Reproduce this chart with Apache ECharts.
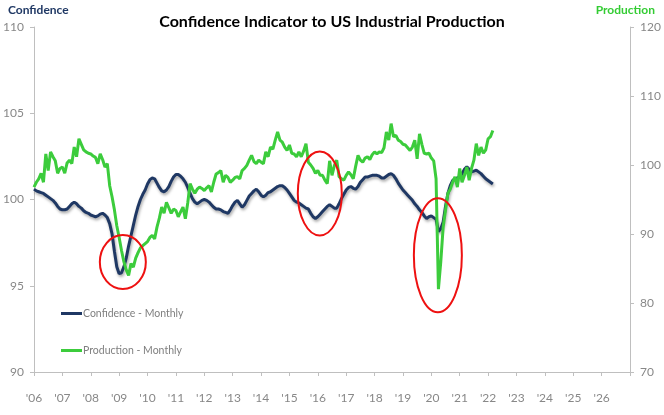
<!DOCTYPE html>
<html>
<head>
<meta charset="utf-8">
<script src="https://cdn.jsdelivr.net/npm/echarts@6/dist/echarts.min.js"></script>
<style>
html,body{margin:0;padding:0;background:#fff;}
#chart{width:664px;height:415px;}
</style>
</head>
<body>
<div id="chart"></div>
<script>
// Monthly data starting January 2006
const startYear = 2006;
const confidence = [
100.6,100.5,100.45,100.4,100.35,100.25,100.15,100.05,99.95,99.8,99.6,99.45,
99.4,99.4,99.45,99.6,99.75,99.85,99.75,99.6,99.5,99.35,99.25,99.2,
99.1,99.05,99.0,99.05,99.15,99.2,99.1,98.95,98.6,98.0,97.0,96.1,
95.7,95.75,96.1,96.6,97.3,97.9,98.5,99.1,99.6,100.0,100.3,100.55,
100.9,101.15,101.25,101.2,100.95,100.7,100.5,100.45,100.55,100.75,101.05,101.3,
101.45,101.45,101.35,101.2,101.0,100.7,100.35,100.05,99.85,99.75,99.85,99.95,
100.0,99.95,99.85,99.7,99.55,99.45,99.45,99.4,99.3,99.25,99.2,99.4,
99.65,99.85,99.95,99.75,99.55,99.7,99.95,100.2,100.35,100.5,100.6,100.45,
100.25,100.15,100.25,100.4,100.45,100.55,100.65,100.75,100.8,100.8,100.7,100.55,
100.35,100.15,99.95,99.85,99.8,99.7,99.6,99.5,99.45,99.2,99.0,98.9,
99.0,99.15,99.3,99.45,99.6,99.7,99.6,99.5,99.5,99.75,100.05,100.3,
100.55,100.7,100.75,100.65,100.6,100.75,101.0,101.15,101.3,101.3,101.35,101.4,
101.4,101.4,101.35,101.25,101.25,101.35,101.45,101.5,101.4,101.2,100.95,100.75,
100.55,100.4,100.25,100.1,99.95,99.75,99.6,99.4,99.25,99.05,98.9,99.0,
99.05,98.95,98.85,98.15,98.3,98.7,99.6,100.35,100.8,101.1,101.2,101.25,
101.3,101.5,101.75,101.9,101.75,101.6,101.65,101.7,101.6,101.5,101.35,101.2,
101.1,101.0,100.9
];
const production = [
96.8,97.5,98.0,98.8,97.5,101.6,99.2,101.9,101.2,100.6,98.8,99.5,
99.7,98.8,100.3,100.7,100.2,102.6,101.2,103.8,103.0,102.2,101.9,101.7,
101.6,101.3,101.1,100.2,101.6,100.8,99.7,100.2,97.0,95.4,93.5,91.2,
89.5,87.6,86.0,84.8,84.0,85.7,85.2,86.5,87.3,88.0,88.3,88.6,
88.9,89.5,89.8,89.3,91.0,92.3,93.9,93.0,94.6,93.8,93.0,93.6,
93.4,92.5,93.2,93.9,92.2,94.5,97.3,96.5,95.9,96.5,96.8,96.6,
96.3,96.7,97.0,96.1,97.5,98.7,98.9,99.2,97.5,98.5,98.2,97.5,
97.8,98.2,98.3,98.0,99.2,99.5,99.96,100.7,101.4,100.5,100.2,100.7,
100.4,100.2,101.9,101.2,102.6,102.3,103.6,104.8,103.6,103.3,102.6,102.1,
102.9,101.7,101.6,101.2,101.9,101.2,102.0,103.1,100.4,100.0,99.5,98.8,
99.2,98.5,98.5,97.8,97.3,100.6,98.5,99.9,100.7,98.3,98.0,97.8,
98.5,99.0,98.6,98.0,99.8,101.4,100.7,100.4,101.0,101.2,100.8,101.5,
101.9,101.6,101.9,101.8,102.5,104.8,103.6,106.0,104.1,104.3,103.6,103.4,
103.0,102.9,102.5,102.1,102.6,103.6,100.9,104.5,103.0,101.7,101.6,101.7,
101.0,100.6,98.0,82.0,86.0,91.0,93.5,95.9,96.5,97.5,98.3,96.8,
99.5,97.5,98.5,99.7,97.8,99.5,100.7,103.1,101.4,102.6,101.7,102.2,
103.8,104.1,105.0
];
const seriesNames = ['Confidence - Monthly', 'Production - Monthly'];
const confidenceTicks = [90, 95, 100, 105, 110];
const productionTicks = [70, 80, 90, 100, 110, 120];
const yearTicks = ["'06","'07","'08","'09","'10","'11","'12","'13","'14","'15","'16","'17","'18","'19","'20","'21","'22","'23","'24","'25","'26"];
// highlighted episodes: [year, confidence value] centres
const highlightCentres = [[2009.13, 96.37], [2016.07, 100.35], [2020.23, 96.77]];
const highlightRadii = [[23, 27], [22, 42], [24, 57]];

const toPairs = arr => arr.map((v, i) => [startYear + i / 12, v]);
const FONT = 'Lato, "Liberation Sans", sans-serif';
const gray = '#888888';

const chart = echarts.init(document.getElementById('chart'), null, {renderer: 'canvas'});
const option = {
  animation: false,
  backgroundColor: '#ffffff',
  title: {
    text: 'Confidence Indicator to US Industrial Production',
    left: 'center',
    top: 9,
    textStyle: {fontFamily: FONT, fontSize: 16, fontWeight: 'bold', color: '#000000'}
  },
  grid: {left: 34, right: 34, top: 27, bottom: 43},
  legend: {
    orient: 'vertical',
    left: 56,
    top: 303,
    itemGap: 26,
    itemWidth: 21,
    itemHeight: 3,
    icon: 'rect',
    textStyle: {fontFamily: FONT, fontSize: 10.5, color: '#7f7f7f', padding: [0, 0, 0, -4]},
    data: seriesNames
  },
  xAxis: {
    type: 'value',
    min: 2006, max: 2027, interval: 1,
    axisLine: {lineStyle: {color: '#bfbfbf', width: 1}},
    axisTick: {show: true, length: 4, lineStyle: {color: '#bfbfbf'}},
    splitLine: {show: false},
    axisLabel: {
      fontFamily: FONT, fontSize: 12, color: gray, margin: 20,
      formatter: v => yearTicks[Math.round(v - startYear)] || ''
    }
  },
  yAxis: [
    {
      type: 'value', min: confidenceTicks[0], max: confidenceTicks[confidenceTicks.length - 1], interval: 5,
      position: 'left',
      name: 'Confidence', nameLocation: 'end', nameGap: 11,
      nameTextStyle: {fontFamily: FONT, fontSize: 12, fontWeight: 'bold', color: '#1f3864', align: 'left', padding: [0, 0, 0, -26]},
      axisLine: {show: true, lineStyle: {color: '#bfbfbf'}},
      axisTick: {show: true, length: 4, lineStyle: {color: '#bfbfbf'}},
      splitLine: {show: false},
      axisLabel: {fontFamily: FONT, fontSize: 12, color: gray, margin: 10}
    },
    {
      type: 'value', min: productionTicks[0], max: productionTicks[productionTicks.length - 1], interval: 10,
      position: 'right',
      name: 'Production', nameLocation: 'end', nameGap: 11,
      nameTextStyle: {fontFamily: FONT, fontSize: 12, fontWeight: 'bold', color: '#33cc33', align: 'right', padding: [0, -25, 0, 0]},
      axisLine: {show: true, lineStyle: {color: '#bfbfbf'}},
      axisTick: {show: true, length: 4, lineStyle: {color: '#bfbfbf'}},
      splitLine: {show: false},
      axisLabel: {fontFamily: FONT, fontSize: 12, color: gray, margin: 10}
    }
  ],
  series: [
    {
      name: seriesNames[0], type: 'line', yAxisIndex: 0, showSymbol: false, symbol: 'none',
      data: toPairs(confidence),
      itemStyle: {color: '#1f3864'},
      lineStyle: {color: '#1f3864', width: 3, shadowColor: 'rgba(0,0,0,0.35)', shadowBlur: 3, shadowOffsetY: 2, shadowOffsetX: 1},
      z: 2
    },
    {
      name: seriesNames[1], type: 'line', yAxisIndex: 1, showSymbol: false, symbol: 'none',
      data: toPairs(production),
      itemStyle: {color: '#3ccc3c'},
      lineStyle: {color: '#3ccc3c', width: 3},
      z: 3
    }
  ]
};
chart.setOption(option);

const ellipses = highlightCentres.map((c, i) => {
  const p = chart.convertToPixel({xAxisIndex: 0, yAxisIndex: 0}, c);
  return {
    type: 'ellipse',
    shape: {cx: p[0], cy: p[1], rx: highlightRadii[i][0], ry: highlightRadii[i][1]},
    style: {fill: 'none', stroke: '#ee1111', lineWidth: 2},
    z: 100
  };
});
chart.setOption({graphic: ellipses});
</script>
</body>
</html>
